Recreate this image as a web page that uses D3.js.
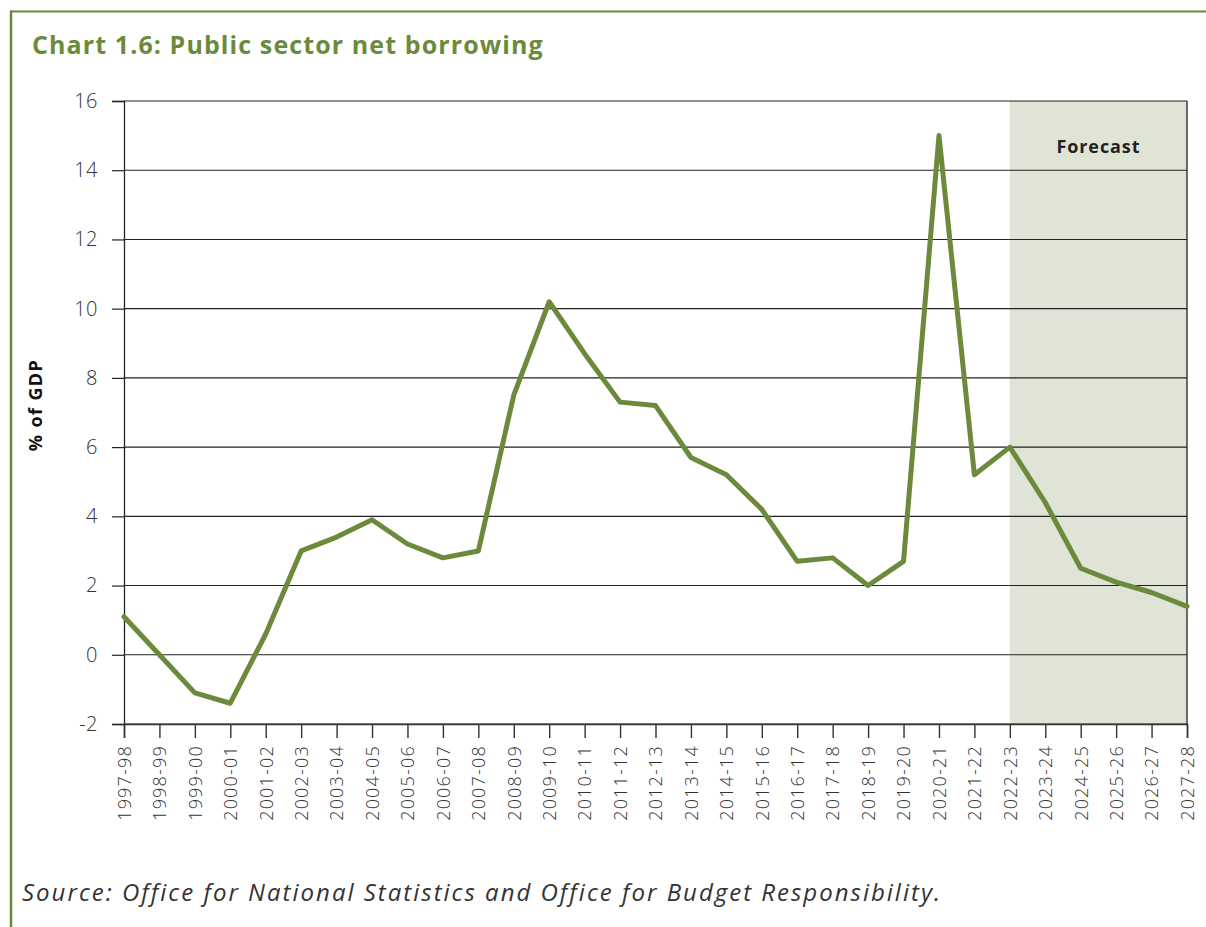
<!DOCTYPE html>
<html>
<head>
<meta charset="utf-8">
<script src="https://cdn.jsdelivr.net/npm/d3@7"></script>
<style>
  html, body { margin: 0; padding: 0; background: #fff; }
  svg { display: block; }
  text { font-family: "Open Sans", Lato, "Noto Sans", sans-serif; }
</style>
</head>
<body>
<svg id="chart" width="1206" height="927"></svg>
<script>
const categories = ["1997-98","1998-99","1999-00","2000-01","2001-02","2002-03","2003-04","2004-05","2005-06","2006-07","2007-08","2008-09","2009-10","2010-11","2011-12","2012-13","2013-14","2014-15","2015-16","2016-17","2017-18","2018-19","2019-20","2020-21","2021-22","2022-23","2023-24","2024-25","2025-26","2026-27","2027-28"];
const borrowing = [1.1,0.0,-1.1,-1.4,0.6,3.0,3.4,3.9,3.2,2.8,3.0,7.5,10.2,8.7,7.3,7.2,5.7,5.2,4.2,2.7,2.8,2.0,2.7,15.0,5.2,6.0,4.4,2.5,2.1,1.8,1.4];
const yTicks = [-2,0,2,4,6,8,10,12,14,16];
const forecastStart = "2022-23";
const forecastEnd = "2027-28";
const titleText = "Chart 1.6: Public sector net borrowing";
const yLabel = "% of GDP";
const forecastLabel = "Forecast";
const sourceText = "Source: Office for National Statistics and Office for Budget Responsibility.";

(function () {
const svg = d3.select("#chart");
const green = "#6b8a3c";
const mLeft = 124, mRight = 1187, mTop = 101, mBottom = 724;

// frame
svg.append("line").attr("x1", 10).attr("x2", 1206).attr("y1", 11.5).attr("y2", 11.5)
  .attr("stroke", green).attr("stroke-width", 2);
svg.append("line").attr("x1", 11).attr("x2", 11).attr("y1", 10.5).attr("y2", 927)
  .attr("stroke", green).attr("stroke-width", 2.5);

svg.append("text").attr("x", 32).attr("y", 54).text(titleText)
  .attr("fill", green).attr("font-size", 25).attr("font-weight", 700).attr("letter-spacing", 1.1);

const x = d3.scalePoint().domain(categories).range([mLeft, mRight]);
const y = d3.scaleLinear().domain([-2, 16]).range([mBottom, mTop]);

// forecast shading
svg.append("rect")
  .attr("x", x(forecastStart)).attr("y", y(16))
  .attr("width", x(forecastEnd) - x(forecastStart)).attr("height", y(-2) - y(16))
  .attr("fill", "#e0e4d7");

// y axis
const yAxis = d3.axisLeft(y).tickValues(yTicks).tickSize(12).tickPadding(14).tickFormat(d => String(d));
const gy = svg.append("g").attr("transform", `translate(${mLeft},0)`).call(yAxis);
gy.select(".domain").attr("stroke", "#222").attr("stroke-width", 1.3);
gy.selectAll(".tick line").attr("stroke", "#222").attr("stroke-width", 1.2);
gy.selectAll(".tick text").attr("font-size", 20).attr("font-weight", 300).attr("fill", "#333")
  .attr("letter-spacing", 0.5)
  .attr("font-family", "'Open Sans', Lato, sans-serif");

// gridlines
svg.append("g").selectAll("line").data(yTicks).join("line")
  .attr("x1", mLeft).attr("x2", mRight)
  .attr("y1", d => y(d)).attr("y2", d => y(d))
  .attr("stroke", "#222").attr("stroke-width", 1.1);

// right border
svg.append("line").attr("x1", mRight).attr("x2", mRight).attr("y1", y(16)).attr("y2", y(-2))
  .attr("stroke", "#222").attr("stroke-width", 1.3);

// x axis
const xAxis = d3.axisBottom(x).tickSize(14).tickPadding(8);
const gx = svg.append("g").attr("transform", `translate(0,${mBottom})`).call(xAxis);
gx.select(".domain").attr("stroke", "#333").attr("stroke-width", 1.5);
gx.selectAll(".tick line").attr("stroke", "#333").attr("stroke-width", 1.4);
gx.selectAll(".tick text")
  .attr("font-size", 18).attr("font-weight", 300).attr("fill", "#333")
  .attr("letter-spacing", 1.2)
  .attr("transform", "rotate(-90)")
  .attr("text-anchor", "end")
  .attr("x", -21).attr("y", 0).attr("dy", "0.35em")
  .attr("font-family", "'Open Sans', Lato, sans-serif");

// line
svg.append("path")
  .datum(borrowing)
  .attr("fill", "none")
  .attr("stroke", green)
  .attr("stroke-width", 5)
  .attr("stroke-linejoin", "round")
  .attr("stroke-linecap", "round")
  .attr("d", d3.line().x((d, i) => x(categories[i])).y(d => y(d)));

// forecast label
svg.append("text")
  .attr("x", (x(forecastStart) + x(forecastEnd)) / 2).attr("y", 153)
  .attr("text-anchor", "middle").attr("font-size", 18).attr("font-weight", 700).attr("fill", "#222")
  .attr("letter-spacing", 0.9)
  .text(forecastLabel);

// y label
svg.append("text")
  .attr("transform", `translate(42,405) rotate(-90)`)
  .attr("text-anchor", "middle").attr("font-size", 18).attr("font-weight", 700).attr("fill", "#111")
  .attr("letter-spacing", 1.4)
  .text(yLabel);

// source
svg.append("text").attr("x", 22).attr("y", 901)
  .attr("font-size", 24).attr("font-style", "italic").attr("font-weight", 400).attr("fill", "#333")
  .attr("letter-spacing", 2.0)
  .text(sourceText);
})();
</script>
</body>
</html>
